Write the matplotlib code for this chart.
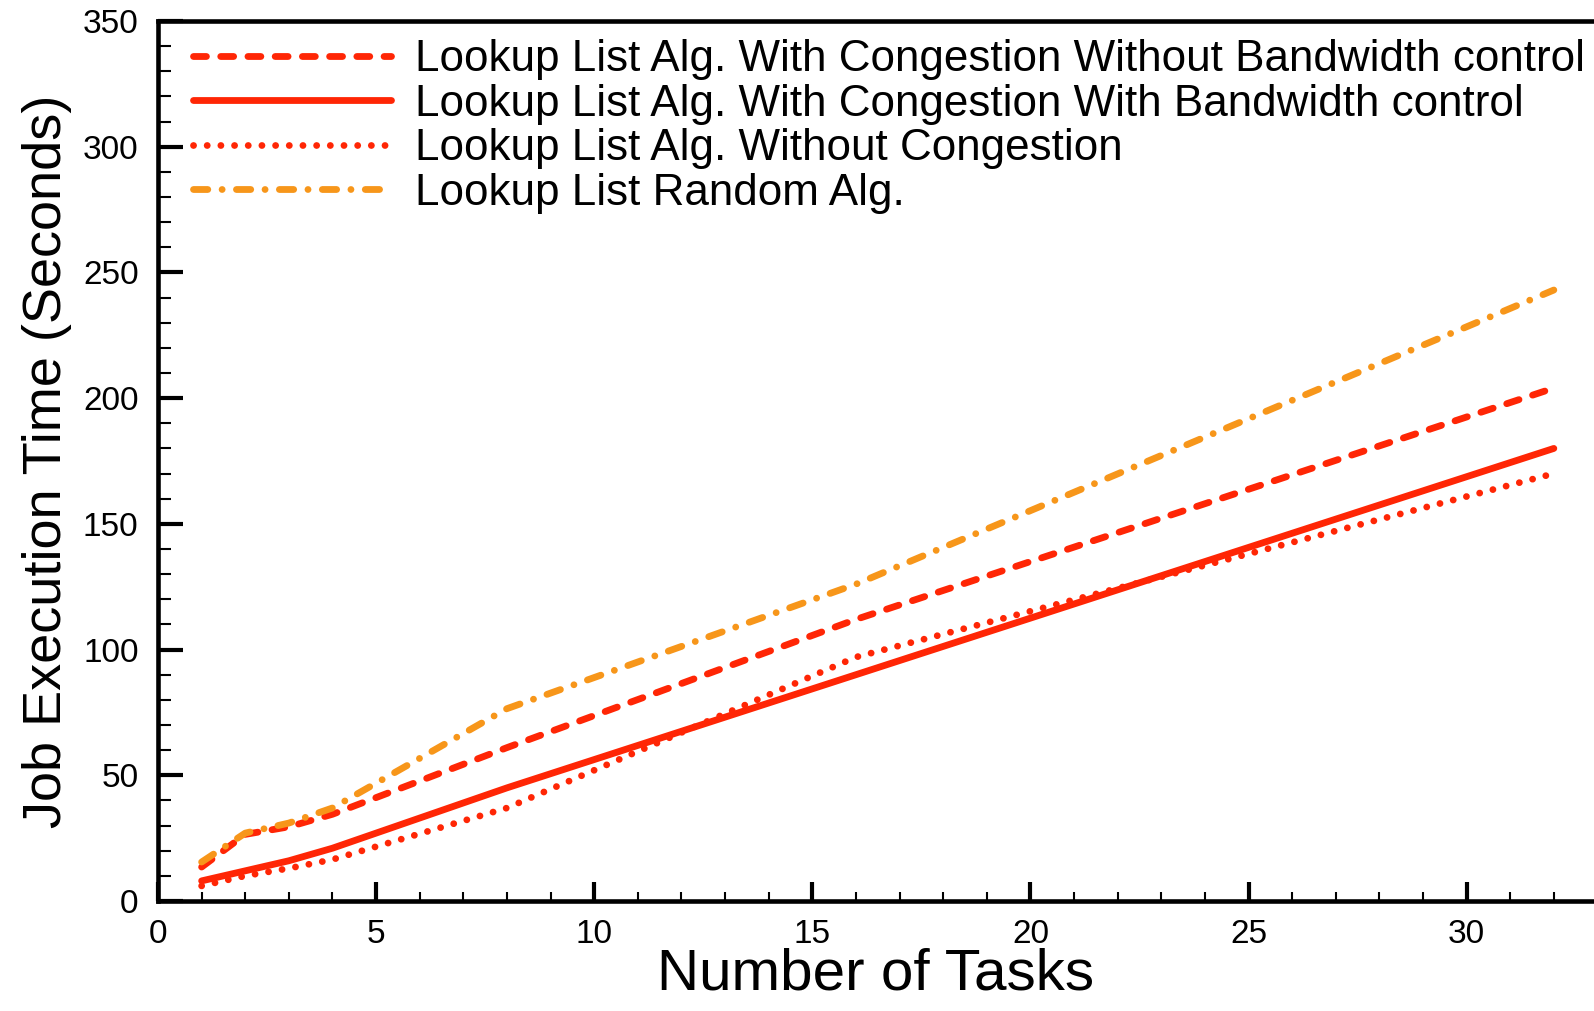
import matplotlib
matplotlib.use("Agg")
import matplotlib.pyplot as plt
from matplotlib.ticker import MultipleLocator

plt.rcParams["font.family"] = ["Liberation Sans", "DejaVu Sans"]

# Number of tasks submitted
tasks = [1, 2, 3, 4, 8, 16, 32]

# Job execution time (seconds) for each scheduling variant
congestion_no_bw = [13.5, 26.5, 29.5, 34.5, 61, 112, 204]
congestion_bw = [8, 12, 16, 21, 45, 90, 180]
no_congestion = [6, 10, 13, 16.5, 37, 97, 170]
random_alg = [15.5, 27, 31, 37, 76.5, 126, 243]

labels = [
    "Lookup List Alg. With Congestion Without Bandwidth control",
    "Lookup List Alg. With Congestion With Bandwidth control",
    "Lookup List Alg. Without Congestion",
    "Lookup List Random Alg.",
]

RED = "#FF2605"
ORANGE = "#F7961A"

W, H = 1594, 1011
fig = plt.figure(figsize=(W / 100, H / 100), dpi=100)
left, right, bottom, top = 158, 1594, 901, 21
ax = fig.add_axes([left / W, 1 - bottom / H, (right - left) / W, (bottom - top) / H])

lw = 4.9
common = dict(lw=lw, solid_capstyle="round", dash_capstyle="round")
ax.plot(tasks, congestion_no_bw, color=RED, dashes=(1.9, 2.1), label=labels[0], **common)
ax.plot(tasks, congestion_bw, color=RED, label=labels[1], **common)
ax.plot(tasks, no_congestion, color=RED, dashes=(0.01, 2.0), label=labels[2], **common)
ax.plot(tasks, random_alg, color=ORANGE, dashes=(2.1, 2.1, 0.01, 2.1), label=labels[3], **common)

ax.set_xlim(0, (right - left) / 43.62)
ax.set_ylim(0, 350)

ax.xaxis.set_major_locator(MultipleLocator(5))
ax.xaxis.set_minor_locator(MultipleLocator(1))
ax.yaxis.set_major_locator(MultipleLocator(50))
ax.yaxis.set_minor_locator(MultipleLocator(10))

ax.tick_params(axis="both", which="both", direction="in", top=False, right=False)
ax.tick_params(axis="x", which="major", length=14, width=3, labelsize=24, pad=13)
ax.tick_params(axis="x", which="minor", length=6.5, width=1.5)
ax.tick_params(axis="y", which="major", length=18, width=3, labelsize=24, pad=14)
ax.tick_params(axis="y", which="minor", length=9.5, width=1.5)

for side in ("left", "bottom", "top"):
    ax.spines[side].set_linewidth(3.3)
ax.spines["right"].set_visible(False)

fig.text(876 / W, 1 - 989 / H, "Number of Tasks", fontsize=42,
         ha="center", va="baseline")
fig.text(61 / W, 1 - 461 / H, "Job Execution Time (Seconds)", fontsize=39,
         rotation=90, rotation_mode="anchor", ha="center", va="baseline")

ax.legend(loc="upper left", bbox_to_anchor=(193 / W, 1 - 39 / H),
          bbox_transform=fig.transFigure, frameon=False, fontsize=31.7,
          handlelength=4.5, handletextpad=0.55, labelspacing=0.08,
          borderpad=0, borderaxespad=0)

fig.savefig("out.png", dpi=100)
